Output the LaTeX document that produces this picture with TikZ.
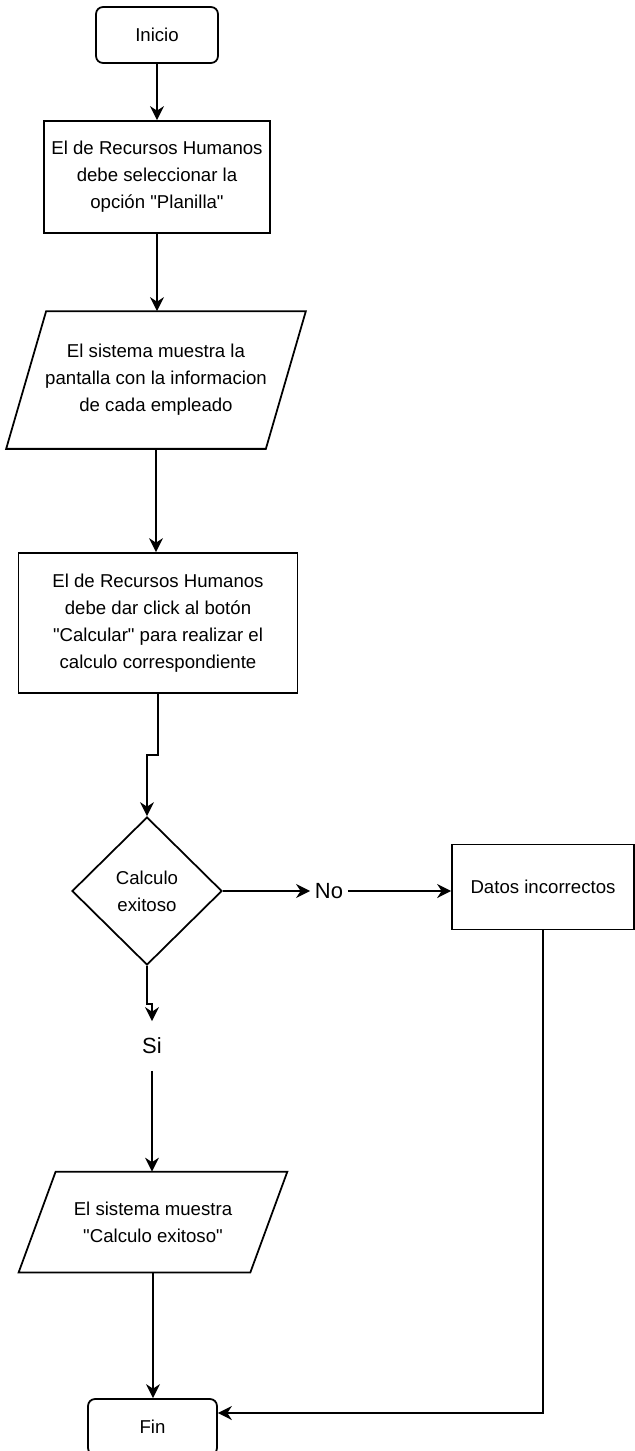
\documentclass[tikz,border=0pt]{standalone}
\usepackage{fontspec}
\setsansfont{Liberation Sans}
\usetikzlibrary{positioning,arrows.meta,calc,shapes.geometric}

\begin{document}
\begin{tikzpicture}[x=0.02cm,y=-0.02cm,>={Stealth[length=2.8mm,width=2.8mm,inset=0.9mm]},
  font=\sffamily\fontsize{10.6}{15.4}\selectfont,line width=1pt,
  term/.style={draw,rounded corners=4pt,minimum width=#1,minimum height=1.12cm,inner sep=0pt},
  proc/.style={draw,align=center,inner sep=0pt},
  io/.style={align=center,inner sep=0pt},
  choice/.style={draw,diamond,aspect=1,align=center,inner sep=0pt,minimum width=3cm,minimum height=2.96cm},
  lbl/.style={font=\sffamily\fontsize{12.5}{14}\selectfont,inner xsep=0.08cm,inner ysep=0pt},
  flow/.style={->}]
\useasboundingbox (0,0) rectangle (635,1451);
% main column
\node[term=2.44cm] (inicio) at (157,35) {Inicio};
\node[proc,minimum width=4.52cm,minimum height=2.24cm] (planilla) at (157,177)
  {El de Recursos Humanos\\ debe seleccionar la\\ opción \textquotedbl Planilla\textquotedbl};
\node[io,minimum width=5.16cm,minimum height=2.72cm] (pantalla) at (156,380)
  {El sistema muestra la\\ pantalla con la informacion\\ de cada empleado};
\draw ([xshift=0.4cm]pantalla.north west) -- ([xshift=0.4cm]pantalla.north east)
  -- ([xshift=-0.4cm]pantalla.south east) -- ([xshift=-0.4cm]pantalla.south west) -- cycle;
\node[proc,minimum width=5.58cm,minimum height=2.8cm] (calcular) at (158,623)
  {El de Recursos Humanos\\ debe dar click al botón\\ \textquotedbl Calcular\textquotedbl{} para realizar el\\ calculo correspondiente};
\node[choice] (exito) at (147,891) {Calculo\\ exitoso};
\node[lbl] (no) at (329,891) {No};
\node[proc,minimum width=3.64cm,minimum height=1.7cm] (datos) at (543,887) {Datos incorrectos};
\node[lbl,minimum height=0.96cm] (si) at (152,1046) {Si};
\node[io,minimum width=4.6cm,minimum height=1.98cm] (mensaje) at (153,1222)
  {El sistema muestra\\ \textquotedbl Calculo exitoso\textquotedbl};
\draw ([xshift=0.37cm]mensaje.north west) -- ([xshift=0.37cm]mensaje.north east)
  -- ([xshift=-0.37cm]mensaje.south east) -- ([xshift=-0.37cm]mensaje.south west) -- cycle;
\node[term=2.58cm] (fin) at (152.5,1427) {Fin};
% connectors
\draw[flow] (inicio) -- (inicio |- planilla.north);
\draw[flow] (planilla) -- (planilla |- pantalla.north);
\draw[flow] (pantalla.south) -- (pantalla.south |- calcular.north);
\draw[flow] (calcular.south) -- ++(0,61) -| (exito.north);
\draw[flow] (exito.east) -- (no.west);
\draw[flow] (no.east) -- (no.east -| datos.west);
\draw[flow] (exito.south) -- ++(0,38) -| (si.north);
\draw[flow] (si.south) -- (si.south |- mensaje.north);
\draw[flow] (mensaje.south) -- (mensaje.south |- fin.north);
\draw[flow] (datos.south) |- ([yshift=0.28cm]fin.east);
\end{tikzpicture}
\end{document}
